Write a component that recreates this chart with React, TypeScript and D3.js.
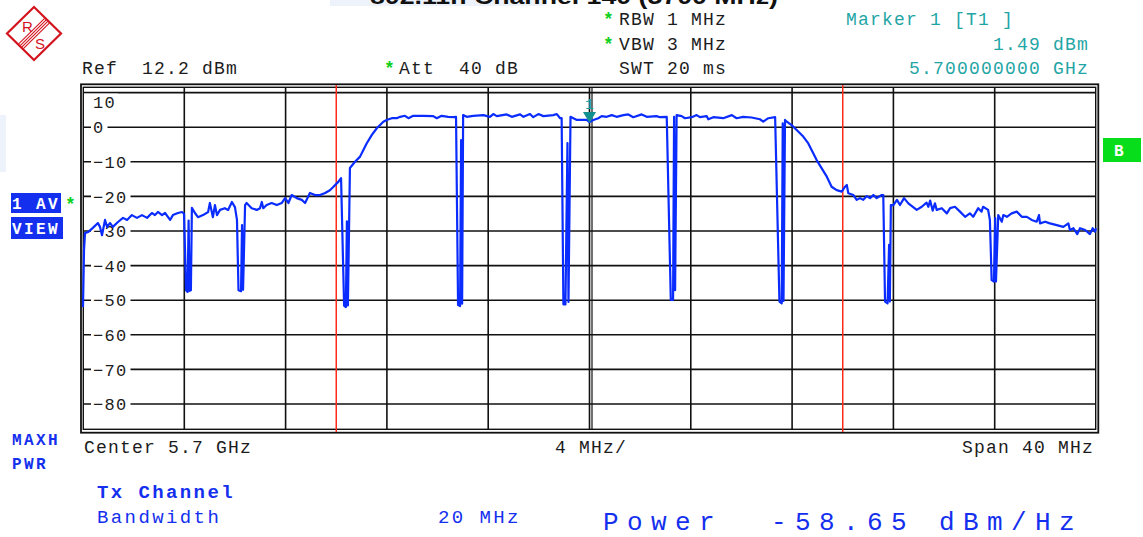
import * as d3 from "d3";

// Trace: frequency offset from 5.7 GHz (MHz) and level (dBm)
const freqMHz = [
  -20.0, -19.96, -19.92, -19.8, -19.61, -19.41, -19.33, -19.25, -19.13, -19.05,
  -18.93, -18.82, -18.62, -18.42, -18.26, -18.07, -17.87, -17.67, -17.47, -17.28,
  -17.16, -17.04, -16.88, -16.76, -16.56, -16.45, -16.25, -16.09, -16.01, -15.93,
  -15.87, -15.83, -15.79, -15.74, -15.7, -15.58, -15.46, -15.26, -15.06, -14.99,
  -14.87, -14.79, -14.71, -14.59, -14.4, -14.27, -14.12, -14.0, -13.92, -13.86,
  -13.76, -13.72, -13.68, -13.6, -13.54, -13.34, -13.14, -13.01, -12.94, -12.88,
  -12.75, -12.55, -12.35, -12.15, -12.02, -11.89, -11.76, -11.56, -11.36, -11.23,
  -11.04, -10.84, -10.64, -10.44, -10.25, -10.12, -9.92, -9.81, -9.69, -9.62,
  -9.58, -9.54, -9.46, -9.26, -9.06, -8.93, -8.8, -8.6, -8.4, -8.21,
  -8.14, -8.01, -7.81, -7.61, -7.48, -7.29, -7.15, -6.96, -6.56, -6.17,
  -6.03, -5.84, -5.58, -5.35, -5.27, -5.19, -5.11, -5.07, -5.03, -4.99,
  -4.85, -4.59, -4.19, -3.93, -3.8, -3.66, -3.27, -3.07, -2.74, -2.61,
  -2.35, -2.22, -2.02, -1.82, -1.43, -1.29, -1.16, -1.1, -1.03, -0.95,
  -0.87, -0.83, -0.75, -0.5, -0.11, 0.0, 0.15, 0.35, 0.48, 0.68,
  0.88, 1.07, 1.34, 1.53, 1.73, 2.06, 2.26, 2.65, 2.78, 3.05,
  3.21, 3.3, 3.34, 3.38, 3.44, 3.64, 3.77, 4.04, 4.23, 4.36,
  4.63, 4.69, 4.89, 5.28, 5.62, 5.81, 6.07, 6.4, 6.73, 6.86,
  7.06, 7.33, 7.5, 7.59, 7.63, 7.66, 7.72, 7.79, 7.98, 8.18,
  8.44, 8.64, 8.77, 8.97, 9.17, 9.37, 9.56, 9.76, 9.96, 10.09,
  10.16, 10.22, 10.42, 10.55, 10.68, 10.81, 10.95, 11.08, 11.21, 11.34,
  11.54, 11.6, 11.67, 11.77, 11.83, 11.86, 11.9, 12.0, 12.14, 12.26,
  12.42, 12.59, 12.92, 13.12, 13.31, 13.38, 13.45, 13.55, 13.64, 13.71,
  13.91, 14.11, 14.24, 14.43, 14.63, 14.83, 15.02, 15.15, 15.35, 15.48,
  15.54, 15.74, 15.81, 15.88, 15.97, 16.02, 16.05, 16.14, 16.28, 16.34,
  16.48, 16.67, 16.87, 17.07, 17.27, 17.46, 17.66, 17.75, 17.79, 17.99,
  18.18, 18.45, 18.71, 18.91, 18.97, 19.11, 19.26, 19.37, 19.57, 19.76,
  19.87, 19.96, 20.0,
];

const levelDbm = [
  -52.0, -35.5, -30.6, -30.3, -29.1, -27.7, -28.8, -31.2, -26.8, -28.8,
  -27.7, -28.8, -27.4, -26.2, -26.8, -25.4, -26.2, -25.4, -26.2, -24.8,
  -25.4, -24.5, -25.4, -24.8, -26.8, -25.4, -24.8, -24.5, -25.0, -47.1,
  -47.6, -27.0, -47.3, -47.1, -23.3, -24.8, -26.0, -25.4, -24.5, -21.9,
  -26.0, -22.5, -25.4, -23.9, -23.4, -23.9, -21.6, -23.1, -26.8, -47.1,
  -47.4, -28.3, -47.0, -22.5, -21.9, -23.4, -23.9, -23.4, -21.6, -23.4,
  -22.5, -21.9, -22.5, -21.9, -20.5, -21.9, -19.6, -20.5, -21.0, -21.9,
  -19.0, -19.6, -19.6, -19.0, -18.2, -17.3, -15.8, -14.7, -51.6, -52.0,
  -27.2, -51.5, -11.8, -10.0, -8.5, -6.6, -4.7, -2.3, -0.3, 1.1,
  1.6, 2.1, 2.6, 2.6, 3.0, 3.3, 2.6, 3.3, 3.3, 3.2,
  2.6, 3.3, 3.0, 2.9, 3.0, -51.4, -51.7, -3.7, -51.0, 3.5,
  3.0, 3.3, 3.5, 3.0, 3.8, 3.2, 3.7, 3.0, 3.7, 3.0,
  3.8, 2.9, 3.8, 3.2, 3.5, 3.8, 2.6, 2.6, -51.2, -51.2,
  -4.6, -50.5, 3.0, 2.1, 2.1, 1.49, 2.1, 2.6, 3.2, 3.0,
  3.5, 3.0, 3.5, 3.7, 2.9, 3.7, 3.0, 3.2, 2.9, 3.0,
  -49.9, -49.9, 3.0, -47.1, 3.5, 3.2, 2.6, 2.9, 3.5, 2.9,
  3.2, 2.3, 2.9, 2.6, 3.5, 2.6, 3.0, 2.8, 2.3, 1.6,
  2.6, 2.9, -50.4, -50.9, 1.1, -50.2, 2.1, 1.6, 0.6, -0.8,
  -2.7, -4.7, -6.6, -9.5, -11.9, -14.3, -17.2, -18.2, -18.6, -17.2,
  -16.7, -19.1, -19.6, -21.0, -20.5, -21.0, -19.9, -20.5, -19.6, -20.5,
  -19.6, -19.6, -50.4, -50.9, -34.0, -50.4, -22.5, -22.5, -21.0, -22.5,
  -20.5, -22.0, -23.9, -23.0, -21.8, -23.0, -21.2, -24.1, -22.0, -23.9,
  -23.4, -24.9, -23.4, -23.0, -24.4, -25.9, -24.9, -25.9, -23.4, -24.4,
  -23.0, -23.9, -26.8, -44.2, -44.6, -26.3, -44.6, -25.4, -27.3, -25.4,
  -25.9, -24.9, -24.4, -25.9, -25.9, -26.8, -27.3, -25.4, -27.8, -27.3,
  -27.8, -28.3, -28.8, -27.8, -29.7, -29.2, -30.9, -29.2, -29.7, -30.9,
  -29.2, -30.2, -29.2,
];

const yTicks = [10, 0, -10, -20, -30, -40, -50, -60, -70, -80];
const xGridMHz = [-16, -12, -8, -4, 0, 4, 8, 12, 16];
const channelEdgesMHz = [-10, 10];
const refLevel = 12.2;
const dbPerDiv = 10;
const spanMHz = 40;
const markerFreq = 0;
const markerLevel = 1.49;

const MONO = "'Liberation Mono', 'DejaVu Sans Mono', monospace";
const INK = "#1c1c1c";
const TEAL = "#1fa5a5";
const BLUE = "#1430ee";
const GREEN = "#10d020";

function Txt({ x, y, children, fill = INK, size = 18, ls = 1.2, weight = "normal" as any }) {
  return (
    <text x={x} y={y} fill={fill} fontSize={size} letterSpacing={ls}
      fontFamily={MONO} fontWeight={weight} style={{ whiteSpace: "pre" }}>{children}</text>
  );
}

export default function App() {
  const x = d3.scaleLinear().domain([-spanMHz / 2, spanMHz / 2]).range([83, 1096]);
  const y = d3.scaleLinear().domain([refLevel, refLevel - 10 * dbPerDiv]).range([85, 431]);

  const trace = d3.line<number>()
    .x((_, i) => x(freqMHz[i]))
    .y(d => y(d))(levelDbm) || "";

  const top = 87.5, bottom = 430;
  const mx = x(markerFreq), my = y(markerLevel);
  const fmt = (v: number) => (v < 0 ? "\u2212" + Math.abs(v) : String(v));

  return (
    <div style={{ position: "absolute", left: 0, top: 0 }}>
      <svg width={1143} height={537} style={{ display: "block", background: "#fff" }}>
        {/* faint overlays */}
        <rect x={330} y={0} width={215} height={6} fill="#eef2fb" />
        <rect x={0} y={115} width={6} height={57} fill="#eef2fb" />

        {/* title, cut off by the top edge as on screen */}
        <text x={370} y={4} fill="#111" fontSize={22} fontWeight="bold"
          fontFamily="'Liberation Sans', Arial, sans-serif" textLength={408}
          lengthAdjust="spacingAndGlyphs">802.11n Channel 140 (5700 MHz)</text>

        {/* R&S logo */}
        <g stroke="#d3141e" fill="none">
          <path d="M34,7 L61,33.5 L34,60 L7,33.5 Z" strokeWidth={2.2} />
          {[-3.3, -1.1, 1.1, 3.3].map(o => (
            <line key={o} x1={20.5 + o * 0.707} y1={46.8 + o * 0.707}
              x2={47.5 + o * 0.707} y2={20.2 + o * 0.707} strokeWidth={1.1} />
          ))}
        </g>
        <text x={22} y={32} fill="#d3141e" fontSize={15} fontFamily="'Liberation Sans', sans-serif">R</text>
        <text x={35} y={49} fill="#d3141e" fontSize={15} fontFamily="'Liberation Sans', sans-serif">S</text>

        {/* header */}
        <Txt x={82} y={74}>Ref  12.2 dBm</Txt>
        <Txt x={384} y={74} fill={GREEN} weight="bold">*</Txt>
        <Txt x={399} y={74}>Att  40 dB</Txt>
        <Txt x={603} y={25} fill={GREEN} weight="bold">*</Txt>
        <Txt x={619} y={25}>RBW 1 MHz</Txt>
        <Txt x={603} y={50} fill={GREEN} weight="bold">*</Txt>
        <Txt x={619} y={50}>VBW 3 MHz</Txt>
        <Txt x={619} y={74}>SWT 20 ms</Txt>
        <Txt x={846} y={25} fill={TEAL}>Marker 1 [T1 ]</Txt>
        <Txt x={993} y={50} fill={TEAL}>1.49 dBm</Txt>
        <Txt x={909} y={74} fill={TEAL}>5.700000000 GHz</Txt>

        {/* grid */}
        <g stroke="#111" strokeWidth={1.6}>
          {yTicks.map(v => (
            <line key={v} x1={83} x2={1096} y1={y(v)} y2={y(v)} />
          ))}
          {xGridMHz.map(f => (
            <line key={f} x1={x(f)} x2={x(f)} y1={top} y2={bottom} />
          ))}
          <line x1={x(0) + 2.5} x2={x(0) + 2.5} y1={top} y2={bottom} strokeWidth={1.2} />
        </g>

        {/* y labels */}
        {yTicks.map(v => {
          const s = fmt(v);
          const ty = v === 10 ? y(v) + 9 : y(v);
          const w = s.length * 11.5;
          return (
            <g key={v}>
              <rect x={v === 10 ? 84 : 91} y={ty - 8} width={v === 10 ? 34 : w + 5} height={16} fill="#fff" />
              <text x={93} y={ty} dy="0.36em" fill={INK} fontSize={17} letterSpacing={1.3}
                fontFamily={MONO}>{s}</text>
            </g>
          );
        })}

        {/* frame */}
        <rect x={81} y={84.3} width={1017.3} height={348.4} fill="none" stroke="#111" strokeWidth={1.8} />
        <rect x={83.3} y={87.3} width={1012.4} height={342} fill="none" stroke="#111" strokeWidth={1.4} />

        {/* channel edges */}
        {channelEdgesMHz.map(f => (
          <line key={f} x1={x(f)} x2={x(f)} y1={85} y2={432} stroke="#ff2a1a" strokeWidth={1.5} />
        ))}

        {/* trace */}
        <path d={trace} fill="none" stroke="#0a2cff" strokeWidth={2.2} strokeLinejoin="round" />

        {/* marker */}
        <path d={`M${mx - 6.5},${my - 10} L${mx + 6.5},${my - 10} L${mx},${my + 1} Z`} fill="#138f8f" />
        <text x={mx} y={my - 13} textAnchor="middle" fill={TEAL} fontSize={15} fontFamily={MONO}>1</text>

        {/* left side boxes */}
        <rect x={11} y={193} width={50} height={20} fill={BLUE} />
        <Txt x={12} y={209} fill="#fff" size={16} ls={2.4} weight="bold">1 AV</Txt>
        <Txt x={65} y={210} fill={GREEN} weight="bold">*</Txt>
        <rect x={11} y={217} width={52} height={22} fill={BLUE} />
        <Txt x={12} y={234} fill="#fff" size={16} ls={2.4} weight="bold">VIEW</Txt>
        <Txt x={12} y={445} fill={BLUE} size={16} ls={2.4} weight="bold">MAXH</Txt>
        <Txt x={12} y={469} fill={BLUE} size={16} ls={2.4} weight="bold">PWR</Txt>

        {/* B tag */}
        <rect x={1103} y={138} width={38} height={24} fill="#08dd1c" />
        <Txt x={1114} y={156} fill="#fff" size={16} ls={0} weight="bold">B</Txt>

        {/* bottom axis annotations */}
        <Txt x={84} y={453}>Center 5.7 GHz</Txt>
        <Txt x={555} y={453}>4 MHz/</Txt>
        <Txt x={962} y={453}>Span 40 MHz</Txt>

        {/* channel power readout */}
        <Txt x={97} y={498} fill={BLUE} size={19} ls={2.4} weight="bold">Tx Channel</Txt>
        <Txt x={97} y={523} fill={BLUE} size={19} ls={2.4}>Bandwidth</Txt>
        <Txt x={438} y={523} fill={BLUE} size={19} ls={2.4}>20 MHz</Txt>
        <Txt x={603} y={530} fill={BLUE} size={26} ls={8.4}>Power  -58.65 dBm/Hz</Txt>
      </svg>
    </div>
  );
}
